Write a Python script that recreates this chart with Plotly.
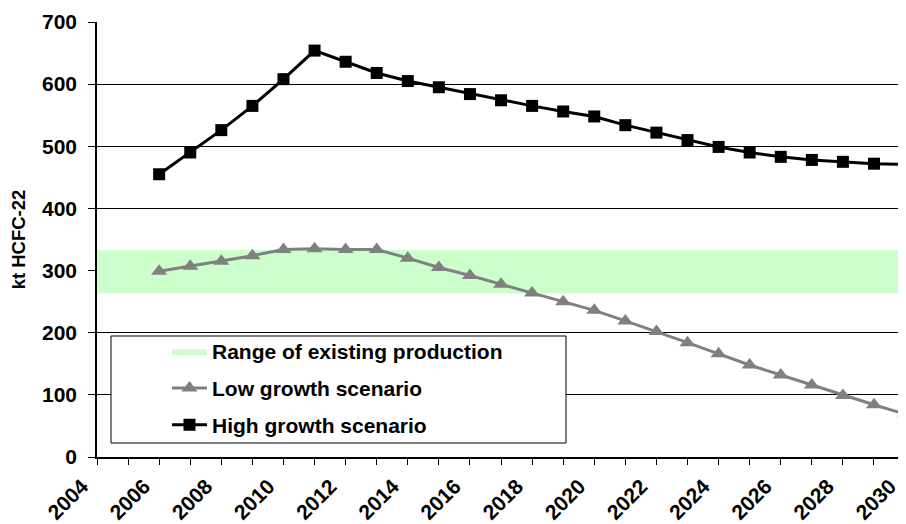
import plotly.graph_objects as go

# ---- data ----
years = list(range(2006, 2031))
high_growth = [455, 490, 526, 565, 608, 654, 636, 618, 605, 595, 584, 574,
               565, 556, 548, 534, 522, 510, 499, 490, 483, 478, 475, 472, 471]
low_growth = [299, 307, 315, 324, 334, 335, 334, 334, 320, 305, 292, 278,
              264, 250, 236, 219, 202, 184, 166, 148, 132, 116, 99, 84, 69]
range_years = [2004, 2030]
range_low = 263
range_high = 333

# ---- layout constants (page pixels; the page has an 8px body margin) ----
OFF = 8
W, H = 906 - OFF, 524 - OFF
PL, PR, PT, PB = 97, 906, 22, 457
FONT = "Liberation Sans, Arial, sans-serif"

def px_x(p):
    return (p - PL) / (PR - PL)

def px_y(p):
    return (PB - p) / (PB - PT)

fig = go.Figure()

band_x = [range_years[0], range_years[1], range_years[1], range_years[0]]
band_y = [range_low, range_low, range_high, range_high]
fig.add_trace(go.Scatter(
    x=band_x, y=band_y, fill="toself", fillcolor="#CCFFCC",
    mode="lines", line=dict(width=0, color="#CCFFCC"),
    name="Range of existing production", legendgroup="a", hoverinfo="skip"))

fig.add_trace(go.Scatter(
    x=years, y=low_growth, mode="lines+markers",
    line=dict(color="#808080", width=3),
    marker=dict(symbol="triangle-up", size=14, color="#808080"),
    name="Low growth scenario", legendgroup="b"))

fig.add_trace(go.Scatter(
    x=years, y=high_growth, mode="lines+markers",
    line=dict(color="#000000", width=3),
    marker=dict(symbol="square", size=12, color="#000000"),
    name="High growth scenario", legendgroup="c"))

fig.update_layout(
    width=W, height=H,
    margin=dict(l=PL - OFF, r=0, t=PT - OFF, b=H - (PB - OFF), pad=0),
    paper_bgcolor="white", plot_bgcolor="white",
    font=dict(family=FONT, size=21, color="black", weight="bold"),
    showlegend=True,
    legend=dict(
        x=px_x(167), y=px_y(331), xanchor="left", yanchor="top",
        bgcolor="rgba(0,0,0,0)", borderwidth=0,
        font=dict(family=FONT, size=21, color="black", weight="bold"),
        itemwidth=35, tracegroupgap=6.5, traceorder="grouped",
    ),
    shapes=[dict(
        type="rect", xref="paper", yref="paper",
        x0=px_x(111), x1=px_x(566), y0=px_y(336), y1=px_y(443),
        fillcolor="white", line=dict(color="black", width=1), layer="above",
    )],
)

fig.update_xaxes(
    range=[2004, 2030.03], tick0=2004, dtick=2,
    showgrid=False, zeroline=False,
    showline=True, linecolor="black", linewidth=1.5,
    ticks="outside", ticklen=6, tickcolor="black", tickwidth=1,
    minor=dict(dtick=1, ticks="outside", ticklen=6, tickcolor="black", showgrid=False),
    tickangle=-45, automargin=False, ticklabelshift=-15, ticklabelstandoff=1,
    tickfont=dict(family=FONT, size=21, color="black", weight="bold"),
)
fig.update_yaxes(
    range=[0, 700], dtick=100,
    showgrid=True, gridcolor="black", gridwidth=1, zeroline=False,
    showline=True, linecolor="black", linewidth=1.5,
    ticks="outside", ticklen=7, tickcolor="black", tickwidth=1,
    automargin=False, ticklabelstandoff=7,
    tickfont=dict(family=FONT, size=21, color="black", weight="bold"),
    title=dict(text="kt HCFC-22", standoff=13,
               font=dict(family=FONT, size=18.5, color="black", weight="bold")),
)

fig.write_html("out.html")
